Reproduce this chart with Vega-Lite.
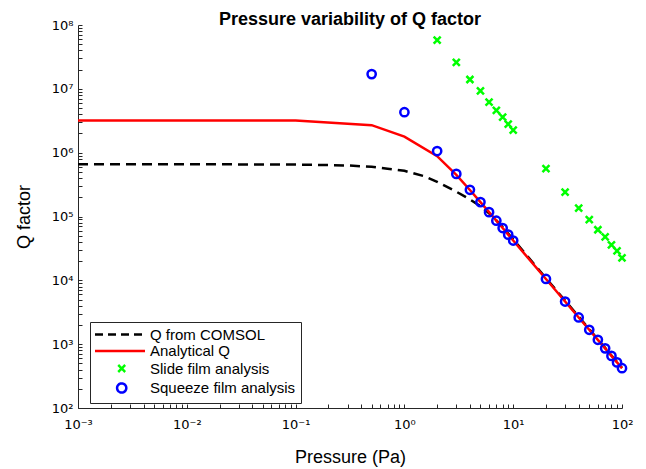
{
  "$schema": "https://vega.github.io/schema/vega-lite/v6.json",
  "width": 544,
  "height": 383,
  "autosize": {"type": "none"},
  "padding": {"left": 78, "top": 25, "right": 24, "bottom": 61},
  "background": "white",
  "title": {"text": "Pressure variability of Q factor", "fontSize": 18, "fontWeight": "bold", "font": "Liberation Sans", "color": "black", "offset": 1, "dy": 11, "frame": "group", "anchor": "middle"},
  "config": {
    "view": {"stroke": null},
    "font": "Liberation Sans",
    "axis": {"domainColor": "#262626", "tickColor": "#262626", "labelColor": "black", "titleColor": "black", "tickSize": -4, "grid": false, "labelFont": "DejaVu Sans", "labelFontSize": 13, "titleFont": "Liberation Sans", "titleFontSize": 18, "titleFontWeight": "normal", "labelFlush": false, "labelOverlap": false, "labelBound": false}
  },
  "data": {"values": [
    {"P": 0.001, "Q": 660000, "series": "Q from COMSOL"},
    {"P": 0.01, "Q": 660000, "series": "Q from COMSOL"},
    {"P": 0.1, "Q": 650000, "series": "Q from COMSOL"},
    {"P": 0.2, "Q": 640000, "series": "Q from COMSOL"},
    {"P": 0.3, "Q": 630000, "series": "Q from COMSOL"},
    {"P": 0.5, "Q": 600000, "series": "Q from COMSOL"},
    {"P": 0.7, "Q": 560000, "series": "Q from COMSOL"},
    {"P": 1, "Q": 520000, "series": "Q from COMSOL"},
    {"P": 1.5, "Q": 430000, "series": "Q from COMSOL"},
    {"P": 2, "Q": 350000, "series": "Q from COMSOL"},
    {"P": 3, "Q": 245000, "series": "Q from COMSOL"},
    {"P": 4, "Q": 185000, "series": "Q from COMSOL"},
    {"P": 5, "Q": 145000, "series": "Q from COMSOL"},
    {"P": 6, "Q": 112000, "series": "Q from COMSOL"},
    {"P": 7, "Q": 87000, "series": "Q from COMSOL"},
    {"P": 8, "Q": 68000, "series": "Q from COMSOL"},
    {"P": 9, "Q": 54000, "series": "Q from COMSOL"},
    {"P": 10, "Q": 44000, "series": "Q from COMSOL"},
    {"P": 20, "Q": 10800, "series": "Q from COMSOL"},
    {"P": 30, "Q": 4800, "series": "Q from COMSOL"},
    {"P": 40, "Q": 2700, "series": "Q from COMSOL"},
    {"P": 50, "Q": 1720, "series": "Q from COMSOL"},
    {"P": 60, "Q": 1190, "series": "Q from COMSOL"},
    {"P": 70, "Q": 875, "series": "Q from COMSOL"},
    {"P": 80, "Q": 665, "series": "Q from COMSOL"},
    {"P": 90, "Q": 525, "series": "Q from COMSOL"},
    {"P": 100, "Q": 425, "series": "Q from COMSOL"},
    {"P": 0.001, "Q": 3200000, "series": "Analytical Q"},
    {"P": 0.01, "Q": 3200000, "series": "Analytical Q"},
    {"P": 0.1, "Q": 3180000, "series": "Analytical Q"},
    {"P": 0.5, "Q": 2700000, "series": "Analytical Q"},
    {"P": 1, "Q": 1780000, "series": "Analytical Q"},
    {"P": 2, "Q": 880000, "series": "Analytical Q"},
    {"P": 3, "Q": 450000, "series": "Analytical Q"},
    {"P": 4, "Q": 260000, "series": "Analytical Q"},
    {"P": 5, "Q": 168000, "series": "Analytical Q"},
    {"P": 6, "Q": 117000, "series": "Analytical Q"},
    {"P": 7, "Q": 86000, "series": "Analytical Q"},
    {"P": 8, "Q": 66000, "series": "Analytical Q"},
    {"P": 9, "Q": 52000, "series": "Analytical Q"},
    {"P": 10, "Q": 42000, "series": "Analytical Q"},
    {"P": 20, "Q": 10500, "series": "Analytical Q"},
    {"P": 30, "Q": 4650, "series": "Analytical Q"},
    {"P": 40, "Q": 2620, "series": "Analytical Q"},
    {"P": 50, "Q": 1680, "series": "Analytical Q"},
    {"P": 60, "Q": 1170, "series": "Analytical Q"},
    {"P": 70, "Q": 860, "series": "Analytical Q"},
    {"P": 80, "Q": 655, "series": "Analytical Q"},
    {"P": 90, "Q": 518, "series": "Analytical Q"},
    {"P": 100, "Q": 420, "series": "Analytical Q"},
    {"P": 2, "Q": 58000000, "series": "Slide film analysis"},
    {"P": 3, "Q": 26000000, "series": "Slide film analysis"},
    {"P": 4, "Q": 14000000, "series": "Slide film analysis"},
    {"P": 5, "Q": 9300000, "series": "Slide film analysis"},
    {"P": 6, "Q": 6200000, "series": "Slide film analysis"},
    {"P": 7, "Q": 4600000, "series": "Slide film analysis"},
    {"P": 8, "Q": 3600000, "series": "Slide film analysis"},
    {"P": 9, "Q": 2800000, "series": "Slide film analysis"},
    {"P": 10, "Q": 2250000, "series": "Slide film analysis"},
    {"P": 20, "Q": 560000, "series": "Slide film analysis"},
    {"P": 30, "Q": 240000, "series": "Slide film analysis"},
    {"P": 40, "Q": 135000, "series": "Slide film analysis"},
    {"P": 50, "Q": 89000, "series": "Slide film analysis"},
    {"P": 60, "Q": 62000, "series": "Slide film analysis"},
    {"P": 70, "Q": 48000, "series": "Slide film analysis"},
    {"P": 80, "Q": 36000, "series": "Slide film analysis"},
    {"P": 90, "Q": 29000, "series": "Slide film analysis"},
    {"P": 100, "Q": 22500, "series": "Slide film analysis"},
    {"P": 0.5, "Q": 17000000, "series": "Squeeze film analysis"},
    {"P": 1, "Q": 4300000, "series": "Squeeze film analysis"},
    {"P": 2, "Q": 1060000, "series": "Squeeze film analysis"},
    {"P": 3, "Q": 465000, "series": "Squeeze film analysis"},
    {"P": 4, "Q": 262000, "series": "Squeeze film analysis"},
    {"P": 5, "Q": 168000, "series": "Squeeze film analysis"},
    {"P": 6, "Q": 117000, "series": "Squeeze film analysis"},
    {"P": 7, "Q": 86000, "series": "Squeeze film analysis"},
    {"P": 8, "Q": 66000, "series": "Squeeze film analysis"},
    {"P": 9, "Q": 52000, "series": "Squeeze film analysis"},
    {"P": 10, "Q": 42000, "series": "Squeeze film analysis"},
    {"P": 20, "Q": 10500, "series": "Squeeze film analysis"},
    {"P": 30, "Q": 4650, "series": "Squeeze film analysis"},
    {"P": 40, "Q": 2620, "series": "Squeeze film analysis"},
    {"P": 50, "Q": 1680, "series": "Squeeze film analysis"},
    {"P": 60, "Q": 1170, "series": "Squeeze film analysis"},
    {"P": 70, "Q": 860, "series": "Squeeze film analysis"},
    {"P": 80, "Q": 655, "series": "Squeeze film analysis"},
    {"P": 90, "Q": 518, "series": "Squeeze film analysis"},
    {"P": 100, "Q": 420, "series": "Squeeze film analysis"}
  ]},
  "encoding": {
    "x": {"field": "P", "type": "quantitative", "title": "Pressure (Pa)",
      "scale": {"type": "log", "domain": [0.001, 100], "nice": false},
      "axis": {"values": [0.001,0.002,0.003,0.004,0.005,0.006,0.007,0.008,0.009,0.01,0.02,0.03,0.04,0.05,0.06,0.07,0.08,0.09,0.1,0.2,0.3,0.4,0.5,0.6,0.7,0.8,0.9,1,2,3,4,5,6,7,8,9,10,20,30,40,50,60,70,80,90,100],
        "labelExpr": "datum.value == 0.001 ? '10⁻³' : datum.value == 0.01 ? '10⁻²' : datum.value == 0.1 ? '10⁻¹' : datum.value == 1 ? '10⁰' : datum.value == 10 ? '10¹' : datum.value == 100 ? '10²' : ''",
        "labelPadding": 14, "titlePadding": 17}},
    "y": {"field": "Q", "type": "quantitative", "title": "Q factor",
      "scale": {"type": "log", "domain": [100, 100000000], "nice": false},
      "axis": {"values": [100,200,300,400,500,600,700,800,900,1000,2000,3000,4000,5000,6000,7000,8000,9000,10000,20000,30000,40000,50000,60000,70000,80000,90000,100000,200000,300000,400000,500000,600000,700000,800000,900000,1000000,2000000,3000000,4000000,5000000,6000000,7000000,8000000,9000000,10000000,20000000,30000000,40000000,50000000,60000000,70000000,80000000,90000000,100000000],
        "labelExpr": "datum.value == 100 ? '10²' : datum.value == 1000 ? '10³' : datum.value == 10000 ? '10⁴' : datum.value == 100000 ? '10⁵' : datum.value == 1000000 ? '10⁶' : datum.value == 10000000 ? '10⁷' : datum.value == 100000000 ? '10⁸' : ''",
        "labelPadding": 9, "titlePadding": 18}},
    "color": {"field": "series", "type": "nominal",
      "scale": {"domain": ["Q from COMSOL", "Analytical Q", "Slide film analysis", "Squeeze film analysis"], "range": ["#000000", "#ff0000", "#00ff00", "#0000ff"]},
      "legend": {"title": null, "orient": "none", "legendX": 12, "legendY": 297, "padding": 5, "strokeColor": "#262626", "fillColor": "white", "cornerRadius": 0,
        "symbolSize": 100, "symbolStrokeWidth": 2.5, "labelOffset": 40, "labelFontSize": 15, "labelFont": "Liberation Sans", "labelColor": "black", "rowPadding": 0.5, "labelLimit": 300,
        "encode": {"symbols": {"update": {
          "shape": [
            {"test": "datum.value === 'Q from COMSOL' || datum.value === 'Analytical Q'", "value": "M-1.5,0H8.5"},
            {"test": "datum.value === 'Slide film analysis'", "value": "M3.14,-0.7L4.54,0.7M4.54,-0.7L3.14,0.7"},
            {"value": "M4.76,0A0.92,0.92 0 1,1 2.92,0A0.92,0.92 0 1,1 4.76,0Z"}],
          "strokeDash": [
            {"test": "datum.value === 'Q from COMSOL'", "value": [8, 5]},
            {"value": [1, 0]}],
          "stroke": [
            {"test": "datum.value === 'Q from COMSOL'", "value": "#000000"},
            {"test": "datum.value === 'Analytical Q'", "value": "#ff0000"},
            {"test": "datum.value === 'Slide film analysis'", "value": "#00ff00"},
            {"value": "#0000ff"}],
          "fill": {"value": "transparent"},
          "opacity": {"value": 1}
        }}}}}
  },
  "layer": [
    {"transform": [{"filter": "datum.series === 'Q from COMSOL'"}],
     "mark": {"type": "line", "strokeWidth": 2.5, "strokeDash": [10, 6]}},
    {"transform": [{"filter": "datum.series === 'Analytical Q'"}],
     "mark": {"type": "line", "strokeWidth": 2.5}},
    {"transform": [{"filter": "datum.series === 'Slide film analysis'"}],
     "mark": {"type": "point", "shape": "M-1,-1L1,1M1,-1L-1,1", "size": 49, "strokeWidth": 2.5, "filled": false, "opacity": 1}},
    {"transform": [{"filter": "datum.series === 'Squeeze film analysis'"}],
     "mark": {"type": "point", "shape": "circle", "size": 68, "strokeWidth": 2.5, "filled": false, "opacity": 1}}
  ]
}
